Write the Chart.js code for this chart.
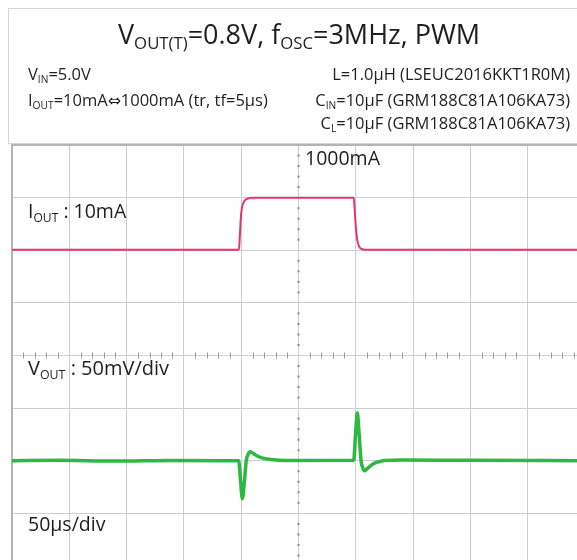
<!DOCTYPE html>
<html>
<head>
<meta charset="utf-8">
<script src="https://cdn.jsdelivr.net/npm/chart.js@4.4.1/dist/chart.umd.min.js"></script>
<style>
html,body{margin:0;padding:0;background:#fff;width:577px;height:560px;overflow:hidden;}
body{position:relative;font-family:"Open Sans",sans-serif;color:#1e1e1e;}
#head{position:absolute;left:8px;top:8px;width:620px;height:134px;border-top:1px solid #d4d4d4;border-left:1px solid #d4d4d4;border-bottom:1px solid #d4d4d4;}
#scope{position:absolute;left:0;top:0;}
.t{position:absolute;white-space:nowrap;line-height:1;z-index:2;}
.r{right:7px;}
.arr{font-family:"DejaVu Sans",sans-serif;font-size:0.95em;}
sub{font-size:0.62em;vertical-align:-0.3em;line-height:0;}
</style>
</head>
<body>
<div id="head"></div>
<canvas id="scope" width="600" height="600"></canvas>

<div class="t" style="left:118px;top:20px;font-size:27px;">V<sub>OUT(T)</sub>=0.8V, f<sub>OSC</sub>=3MHz, PWM</div>
<div class="t" style="left:28px;top:66px;font-size:16.5px;">V<sub>IN</sub>=5.0V</div>
<div class="t" style="left:28px;top:92px;font-size:16.5px;">I<sub>OUT</sub>=10mA<span class="arr">⇔</span>1000mA (tr, tf=5μs)</div>
<div class="t r" style="top:66px;font-size:16.5px;">L=1.0μH (LSEUC2016KKT1R0M)</div>
<div class="t r" style="top:92px;font-size:16.5px;">C<sub>IN</sub>=10μF (GRM188C81A106KA73)</div>
<div class="t r" style="top:115px;font-size:16.5px;">C<sub>L</sub>=10μF (GRM188C81A106KA73)</div>

<div class="t" style="left:305px;top:148px;font-size:19.5px;">1000mA</div>
<div class="t" style="left:28px;top:201px;font-size:19.5px;">I<sub>OUT</sub> : 10mA</div>
<div class="t" style="left:28px;top:358px;font-size:20px;">V<sub>OUT</sub> : 50mV/div</div>
<div class="t" style="left:28px;top:514px;font-size:19.5px;">50μs/div</div>

<script>
// scope screen: 10 x 8 divisions, 50us/div
const timeSpanUs = 500;
const timePerDiv = 50;
const vertDivs = 8;

// I_OUT trace (mA), 1000mA/div, 10mA level sits on div 6
const ioutTime = [0, 198.0, 198.6, 199.3, 200.1, 201.2, 202.6, 204.4, 206.6, 209.5, 298.2, 298.9, 299.7, 300.6, 301.8, 303.2, 305.0, 308.0, 500];
const ioutMA   = [10, 10, 180, 480, 720, 860, 930, 970, 990, 1000, 1000, 830, 540, 300, 140, 60, 25, 10, 10];
const ioutPos = 6;
const ioutPerDiv = 1000;

// V_OUT deviation (mV), 50mV/div, 0.8V level sits on div 2
const voutTime = [0, 40, 90, 140, 197.8, 199.3, 201.0, 202.6, 204.4, 206.0, 207.8, 210.5, 214, 219, 226, 240, 298.2, 299.6, 301.3, 303.0, 304.6, 306.2, 307.6, 309.5, 312, 315, 319, 325, 340, 400, 500];
const voutMV   = [0, 0.4, -0.3, 0.3, 0, -17, -36, -22, 0, 6, 8.5, 7, 4.5, 2.5, 1.2, 0.3, 0.5, 22, 45.5, 24, 0, -7, -9.5, -8, -5.5, -3, -1.3, 0.3, 0.8, 0.4, 0];
const voutPos = 2;
const voutPerDiv = 50;

const ioutPts = ioutTime.map((t, i) => ({x: t, y: ioutPos + ioutMA[i] / ioutPerDiv}));
const voutPts = voutTime.map((t, i) => ({x: t, y: voutPos + voutMV[i] / voutPerDiv}));

// small sub-division marks on the centre cross
const centreMarks = {
  id: 'centreMarks',
  afterDatasetsDraw(chart){
    const {ctx, scales:{x, y}} = chart;
    const cx = x.getPixelForValue(timeSpanUs / 2);
    const cy = y.getPixelForValue(vertDivs / 2);
    ctx.save();
    ctx.fillStyle = '#8a8a8a';
    for(let v = 0; v <= vertDivs; v += 0.2){
      if(Math.abs(v - Math.round(v)) < 0.01) continue;
      ctx.fillRect(cx - 1, y.getPixelForValue(v) - 1, 2, 2);
    }
    ctx.strokeStyle = '#9a9a9a';
    ctx.lineWidth = 1;
    for(let t = 0; t <= timeSpanUs; t += timePerDiv / 5){
      if(t % timePerDiv === 0) continue;
      const px = Math.round(x.getPixelForValue(t)) + 0.5;
      ctx.beginPath(); ctx.moveTo(px, cy - 3); ctx.lineTo(px, cy + 3); ctx.stroke();
    }
    ctx.restore();
  }
};

const gridStyle = {color:'#cdcdcd', lineWidth:1, drawTicks:false};
const borderStyle = {display:true, color:'#b4b4b4', width:2};

new Chart(document.getElementById('scope').getContext('2d'), {
  type:'line',
  data:{datasets:[
    {label:'IOUT', data:ioutPts, borderColor:'#e8336d', borderWidth:2, cubicInterpolationMode:'monotone', pointRadius:0},
    {label:'VOUT', data:voutPts, borderColor:'#2db842', borderWidth:3.5, cubicInterpolationMode:'monotone', pointRadius:0}
  ]},
  options:{
    responsive:false, animation:false,
    layout:{padding:{left:12, top:145, right:15, bottom:34}},
    plugins:{legend:{display:false}, tooltip:{enabled:false}},
    scales:{
      x:{type:'linear', position:'top', min:0, max:timeSpanUs, ticks:{display:false, stepSize:timePerDiv}, grid:gridStyle, border:borderStyle},
      y:{type:'linear', position:'left', min:0, max:vertDivs, ticks:{display:false, stepSize:1}, grid:gridStyle, border:borderStyle}
    }
  },
  plugins:[centreMarks]
});
</script>
</body>
</html>
